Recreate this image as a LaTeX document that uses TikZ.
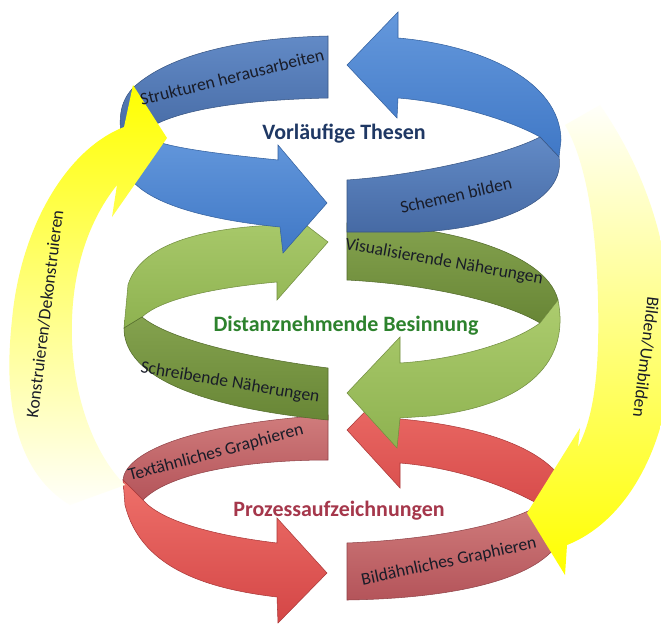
\documentclass[tikz,border=0pt]{standalone}
\usepackage{fontspec}
\setmainfont{Carlito}

\definecolor{bluelight}{RGB}{100,152,220}
\definecolor{bluedeep}{RGB}{64,120,198}
\definecolor{bluedull}{RGB}{98,138,198}
\definecolor{bluedark}{RGB}{70,106,164}
\definecolor{greenlight}{RGB}{172,204,110}
\definecolor{greendeep}{RGB}{142,178,80}
\definecolor{greendull}{RGB}{132,162,78}
\definecolor{greendark}{RGB}{104,134,54}
\definecolor{redlight}{RGB}{238,112,106}
\definecolor{reddeep}{RGB}{212,70,70}
\definecolor{reddull}{RGB}{208,124,124}
\definecolor{reddark}{RGB}{180,84,90}
\definecolor{thesenblue}{RGB}{31,56,100}
\definecolor{besinngreen}{RGB}{45,130,45}
\definecolor{prozessred}{RGB}{165,55,75}
\definecolor{ink}{RGB}{25,28,40}

\begin{document}
\begin{tikzpicture}[
                x=0.02cm, y=-0.02cm,
                bluearrow/.style={
                    top color=bluelight,
                    bottom color=bluedeep,
                    draw=bluedeep!80!black,
                    line width=0.3pt
                },
                blueribbon/.style={
                    top color=bluedull,
                    bottom color=bluedark,
                    draw=bluedark!80!black,
                    line width=0.3pt
                },
                greenarrow/.style={
                    top color=greenlight,
                    bottom color=greendeep,
                    draw=greendeep!80!black,
                    line width=0.3pt
                },
                greenribbon/.style={
                    top color=greendull,
                    bottom color=greendark,
                    draw=greendark!80!black,
                    line width=0.3pt
                },
                redarrow/.style={
                    top color=redlight,
                    bottom color=reddeep,
                    draw=reddeep!80!black,
                    line width=0.3pt
                },
                redribbon/.style={
                    top color=reddull,
                    bottom color=reddark,
                    draw=reddark!80!black,
                    line width=0.3pt
                },
                yellowup/.style={
                    top color=yellow,
                    middle color=yellow!38,
                    bottom color=yellow!2
                },
                yellowdown/.style={
                    top color=yellow!2,
                    middle color=yellow!40,
                    bottom color=yellow
                },
                bandlabel/.style={
                    inner sep=0pt,
                    text=ink,
                    font=\fontsize{10}{12}\selectfont
                },
                heading/.style={
                    inner sep=0pt,
                    font=\fontsize{12.5}{15}\selectfont\bfseries
                }
            ]

                \useasboundingbox[fill=white] (0,0) rectangle (661,628);

                \draw[redribbon] (328,415) -- (328,460) .. controls (250,460) and (170,472) .. (143,500) -- (123,480) .. controls (125,455) and (180,425) .. (328,415) -- cycle;
                \draw[redarrow] (143,500) .. controls (160,520) and (210,535) .. (277,543) -- (277,518) -- (327,573) -- (278,623) -- (277,597) .. controls (200,588) and (140,565) .. (125,505) -- (123,480) -- cycle;
                \draw[redarrow] (347,430) -- (398,378) -- (400,419) .. controls (470,425) and (545,445) .. (565,485) -- (565,525) -- (540,505) .. controls (510,488) and (460,468) .. (400,463) -- (400,488) -- cycle;
                \draw[redribbon] (540,505) -- (565,525) .. controls (560,570) and (480,598) .. (347,600) -- (347,543) .. controls (420,540) and (500,528) .. (540,505) -- cycle;

                \draw[greenarrow] (142,317) .. controls (160,300) and (210,288) .. (277,282) -- (277,300) -- (328,242) -- (280,205) -- (277,225) .. controls (200,228) and (140,245) .. (128,285) -- (124,328) -- cycle;
                \draw[greenribbon] (142,317) -- (124,328) .. controls (124,370) and (180,405) .. (328,420) -- (328,368) .. controls (250,358) and (170,340) .. (142,317) -- cycle;
                \draw[greenribbon] (347,223) .. controls (440,225) and (545,250) .. (558,300) -- (540,323) .. controls (510,305) and (440,285) .. (347,280) -- cycle;
                \draw[greenarrow] (540,323) -- (558,300) .. controls (570,360) and (530,405) .. (430,416) -- (400,418) -- (397,448) -- (347,393) -- (400,337) -- (400,363) .. controls (450,360) and (510,345) .. (540,323) -- cycle;

                \draw[blueribbon] (328,36) -- (328,98) .. controls (240,100) and (170,110) .. (142,133) -- (122,140) .. controls (118,118) and (120,100) .. (135,86) .. controls (170,55) and (240,38) .. (328,36) -- cycle;
                \draw[bluearrow] (142,133) .. controls (150,145) and (200,152) .. (278,160) -- (278,145) -- (327,203) -- (283,253) -- (280,227) .. controls (210,220) and (150,205) .. (130,178) .. controls (120,165) and (119,150) .. (122,140) -- cycle;
                \draw[bluearrow] (347,65) -- (398,12) -- (398,38) .. controls (480,45) and (560,80) .. (561,140) -- (559,157) -- (540,137) .. controls (510,120) and (450,102) .. (398,98) -- (397,118) -- cycle;
                \draw[blueribbon] (540,137) -- (559,157) .. controls (566,200) and (500,228) .. (420,232) -- (347,232) -- (347,180) .. controls (420,175) and (505,155) .. (540,137) -- cycle;

                \shade[yellowup] (124,127) -- (133,85) -- (167,138) -- (112,217) -- (117,185) .. controls (85,225) and (70,280) .. (72,340) .. controls (74,400) and (95,455) .. (125,485) -- (70,505) .. controls (20,475) and (2,410) .. (12,320) .. controls (20,230) and (65,150) .. (124,127) -- cycle;
                \shade[yellowdown] (567,545) -- (565,575) -- (527,513) -- (580,428) -- (578,447) .. controls (592,420) and (600,380) .. (598,300) .. controls (596,220) and (585,160) .. (565,125) -- (600,105) .. controls (645,170) and (674,250) .. (672,350) .. controls (670,440) and (630,520) .. (567,545) -- cycle;

                \node[bandlabel, rotate=14] (struk) at (232,77) {Strukturen herausarbeiten};
                \node[bandlabel, rotate=13] (schemen) at (456,195) {Schemen bilden};
                \node[bandlabel, rotate=-10] (visual) at (444,262) {Visualisierende Näherungen};
                \node[bandlabel, rotate=-9.5] (schreib) at (230,383) {Schreibende Näherungen};
                \node[bandlabel, rotate=15] (textahn) at (216,453) {Textähnliches Graphieren};
                \node[bandlabel, rotate=12] (bildahn) at (449,562) {Bildähnliches Graphieren};
                \node[bandlabel, rotate=83] (konstr) at (45,314) {Konstruieren/Dekonstruieren};
                \node[bandlabel, rotate=-97] (bilden) at (646,357) {Bilden/Umbilden};

                \node[heading, text=thesenblue] (thesen) at (344,134) {Vorläufige Thesen};
                \node[heading, text=besinngreen] (besinn) at (346,326) {Distanznehmende Besinnung};
                \node[heading, text=prozessred] (prozess) at (339,511) {Prozessaufzeichnungen};
        \end{tikzpicture}
\end{document}
